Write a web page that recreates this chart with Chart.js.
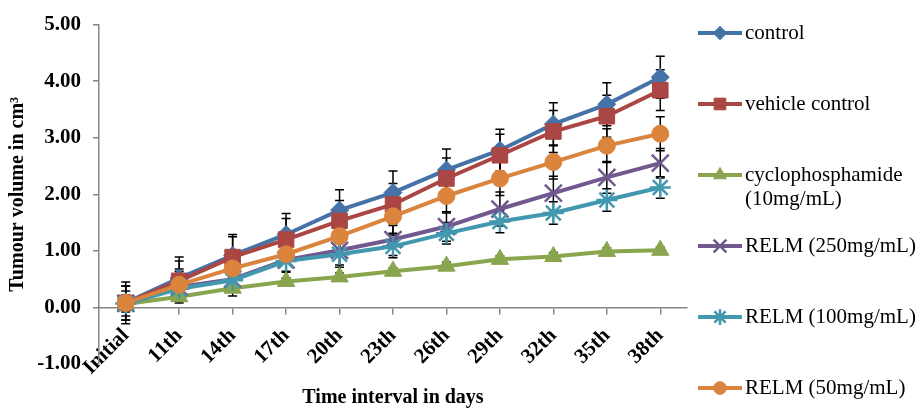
<!DOCTYPE html>
<html>
<head>
<meta charset="utf-8">
<script src="https://cdn.jsdelivr.net/npm/chart.js@4.4.1/dist/chart.umd.min.js"></script>
<style>
  html, body { margin: 0; padding: 0; background: #fff; }
  #wrap { width: 918px; height: 410px; }
</style>
</head>
<body>
<div id="wrap"><canvas id="tumour"></canvas></div>
<script>
// categories and tick labels
var days = ['Initial', '11th', '14th', '17th', '20th', '23th', '26th', '29th', '32th', '35th', '38th'];
var yTickValues = [-1, 0, 1, 2, 3, 4, 5];

// series names (legend), \n = line break
var seriesNames = ['control', 'vehicle control', 'cyclophosphamide\n(10mg/mL)',
  'RELM (250mg/mL)', 'RELM (100mg/mL)', 'RELM (50mg/mL)'];

// mean tumour volume, cm3
var controlVol = [0.08, 0.52, 0.92, 1.29, 1.72, 2.03, 2.43, 2.78, 3.24, 3.59, 4.07];
var vehicleVol = [0.08, 0.47, 0.89, 1.20, 1.53, 1.82, 2.28, 2.69, 3.11, 3.38, 3.84];
var cycloVol   = [0.06, 0.19, 0.34, 0.46, 0.54, 0.64, 0.73, 0.85, 0.90, 0.99, 1.01];
var relm250Vol = [0.07, 0.36, 0.50, 0.84, 1.01, 1.20, 1.43, 1.74, 2.02, 2.30, 2.55];
var relm100Vol = [0.07, 0.33, 0.48, 0.82, 0.94, 1.08, 1.31, 1.52, 1.67, 1.90, 2.12];
var relm50Vol  = [0.08, 0.40, 0.69, 0.94, 1.26, 1.61, 1.97, 2.28, 2.57, 2.86, 3.07];

// error bar half widths
var controlErr = [0.37, 0.37, 0.37, 0.37, 0.36, 0.38, 0.37, 0.37, 0.38, 0.38, 0.37];
var vehicleErr = [0.30, 0.35, 0.36, 0.37, 0.36, 0.37, 0.36, 0.37, 0.37, 0.37, 0.36];
var cycloErr   = [0.05, 0.06, 0.05, 0.06, 0.07, 0.06, 0.07, 0.06, 0.07, 0.06, 0.06];
var relm250Err = [0.22, 0.28, 0.30, 0.33, 0.30, 0.28, 0.26, 0.30, 0.30, 0.28, 0.26];
var relm100Err = [0.15, 0.20, 0.18, 0.20, 0.19, 0.20, 0.19, 0.20, 0.20, 0.20, 0.19];
var relm50Err  = [0.30, 0.28, 0.30, 0.30, 0.30, 0.30, 0.30, 0.30, 0.30, 0.30, 0.30];

var serif = '"Liberation Serif", "Times New Roman", serif';
var grey = '#868686';

function series(i, vals, errs, color, style, radius, order) {
  return {
    label: seriesNames[i],
    data: vals,
    errors: errs,
    borderColor: color,
    backgroundColor: color,
    borderWidth: 4,
    pointStyle: style,
    pointRadius: radius,
    pointHoverRadius: radius,
    pointBorderWidth: (style == 'crossRot' || style == 'star') ? 2.5 : 1,
    pointBorderColor: color,
    pointBackgroundColor: color,
    order: order,
    tension: 0
  };
}

// error bars, drawn under the lines
var errorBars = {
  id: 'errorBars',
  beforeDatasetsDraw: function(chart) {
    var ctx = chart.ctx, y = chart.scales.y;
    ctx.save();
    ctx.strokeStyle = '#000';
    ctx.lineWidth = 1.5;
    chart.data.datasets.forEach(function(ds, i) {
      var meta = chart.getDatasetMeta(i);
      meta.data.forEach(function(pt, j) {
        var top = y.getPixelForValue(ds.data[j] + ds.errors[j]);
        var bot = y.getPixelForValue(ds.data[j] - ds.errors[j]);
        ctx.beginPath();
        ctx.moveTo(pt.x, top); ctx.lineTo(pt.x, bot);
        ctx.moveTo(pt.x - 4.5, top); ctx.lineTo(pt.x + 4.5, top);
        ctx.moveTo(pt.x - 4.5, bot); ctx.lineTo(pt.x + 4.5, bot);
        ctx.stroke();
      });
    });
    ctx.restore();
  }
};

// excel style legend on the right: line with marker, then text
var sideLegend = {
  id: 'sideLegend',
  afterDraw: function(chart) {
    var ctx = chart.ctx;
    var x0 = chart.chartArea.right + 11;
    ctx.save();
    ctx.font = '21px ' + serif;
    ctx.textBaseline = 'middle';
    chart.data.datasets.forEach(function(ds, i) {
      var cy = 33 + i * 71;
      ctx.strokeStyle = ds.borderColor;
      ctx.fillStyle = ds.borderColor;
      ctx.lineWidth = 4;
      ctx.beginPath();
      ctx.moveTo(x0, cy); ctx.lineTo(x0 + 44, cy);
      ctx.stroke();
      ctx.lineWidth = ds.pointBorderWidth;
      Chart.helpers.drawPoint(ctx, {
        pointStyle: ds.pointStyle,
        radius: ds.pointRadius * 0.75,
        borderWidth: ds.pointBorderWidth,
        rotation: 0
      }, x0 + 22, cy);
      ctx.fillStyle = '#000';
      ds.label.split('\n').forEach(function(line, k) {
        ctx.fillText(line, x0 + 47, cy + k * 24);
      });
    });
    ctx.restore();
  }
};

new Chart(document.getElementById('tumour'), {
  type: 'line',
  data: {
    labels: days,
    datasets: [
      series(0, controlVol, controlErr, '#4572A7', 'rectRot', 9, 6),
      series(1, vehicleVol, vehicleErr, '#AA4643', 'rect', 11, 5),
      series(2, cycloVol, cycloErr, '#89A54E', 'triangle', 10, 4),
      series(3, relm250Vol, relm250Err, '#71588F', 'crossRot', 12, 3),
      series(4, relm100Vol, relm100Err, '#4198AF', 'star', 10.5, 2),
      series(5, relm50Vol, relm50Err, '#DB843D', 'circle', 8.5, 1)
    ]
  },
  options: {
    responsive: true,
    maintainAspectRatio: false,
    animation: false,
    layout: { padding: { top: 21, right: 231, left: 0, bottom: 0 } },
    plugins: {
      legend: { display: false },
      tooltip: { enabled: false }
    },
    scales: {
      x: {
        type: 'category',
        position: { y: 0 },
        offset: true,
        grid: { drawOnChartArea: false, offset: false, tickLength: 6, color: grey, lineWidth: 1.5 },
        border: { color: grey, width: 1.5 },
        ticks: {
          autoSkip: false, minRotation: 45, maxRotation: 45, padding: 10,
          color: '#000', font: { family: serif, size: 21, weight: 'bold' }
        }
      },
      x2: {
        type: 'category',
        position: 'bottom',
        offset: true,
        grid: { display: false },
        border: { display: false },
        ticks: { display: false },
        title: {
          display: true, text: 'Time interval in days', color: '#000',
          padding: { top: 0, bottom: 0 },
          font: { family: serif, size: 20, weight: 'bold' }
        },
        afterFit: function(s) { s.height = 46; }
      },
      y: {
        min: -1,
        max: 5,
        afterBuildTicks: function(s) {
          s.ticks = yTickValues.map(function(v) { return { value: v }; });
        },
        grid: { drawOnChartArea: false, tickLength: 6, color: grey, lineWidth: 1.5 },
        border: { color: grey, width: 1.5 },
        ticks: {
          padding: 12, color: '#000',
          font: { family: serif, size: 21, weight: 'bold' },
          callback: function(v) { return Number(v).toFixed(2); }
        },
        title: {
          display: true, text: 'Tumour volume in cm³', color: '#000',
          padding: { top: 6, bottom: 0 },
          font: { family: serif, size: 20, weight: 'bold' }
        },
        afterFit: function(s) { s.width = 99; }
      }
    }
  },
  plugins: [errorBars, sideLegend]
});
</script>
</body>
</html>
